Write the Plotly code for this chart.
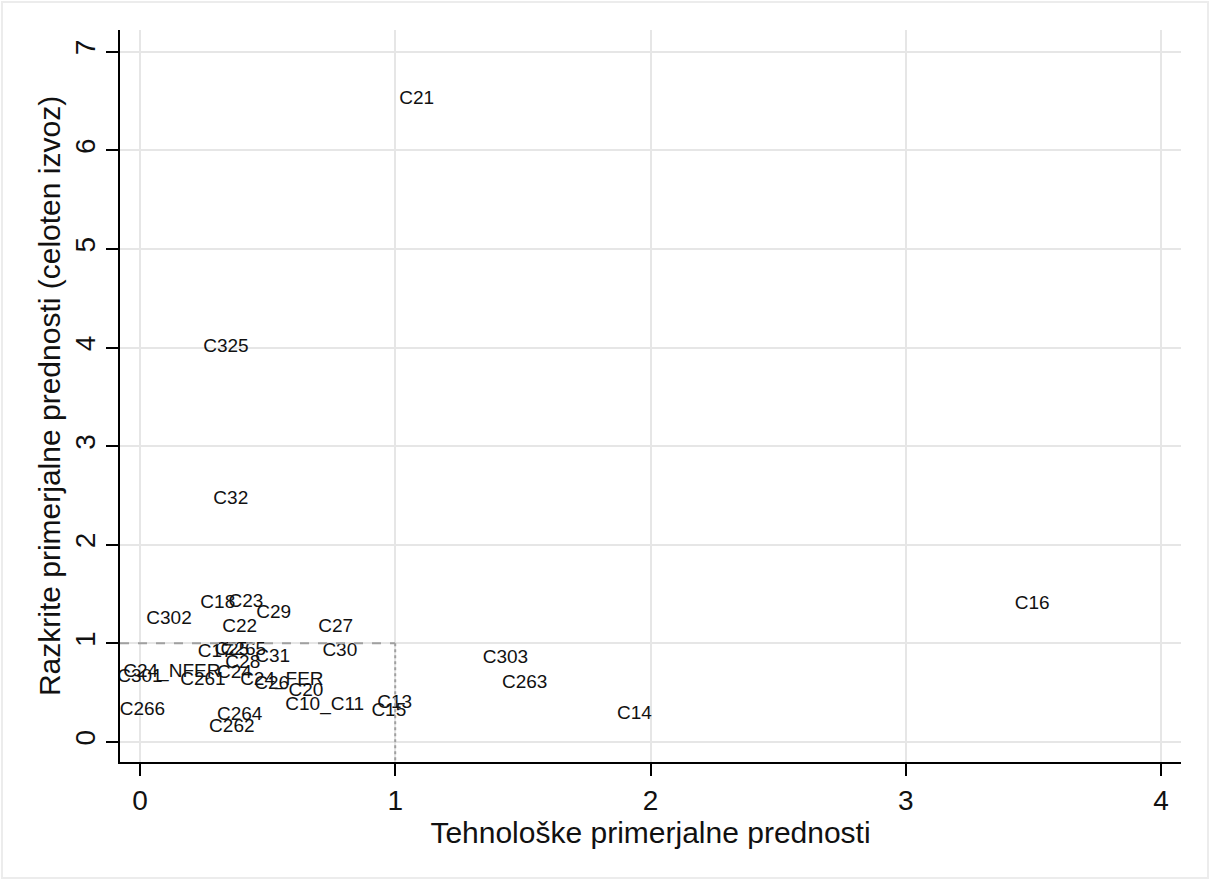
import plotly.graph_objects as go

labels = ["C21", "C325", "C32", "C16", "C18", "C23", "C29", "C302", "C22", "C27",
          "C30", "C303", "C263", "C14", "C13", "C15", "C10_C11", "C20", "C24_FER", "C26",
          "C264", "C262", "C266", "C301", "C24_NFER", "C261", "C24", "C17", "C25", "C265",
          "C28", "C31"]
tech = [1.084, 0.337, 0.356, 3.495, 0.305, 0.415, 0.524, 0.114, 0.391, 0.767,
        0.783, 1.432, 1.507, 1.937, 0.998, 0.975, 0.724, 0.650, 0.556, 0.516,
        0.391, 0.360, 0.010, 0.000, 0.125, 0.247, 0.370, 0.295, 0.360, 0.405,
        0.403, 0.520]
rca = [6.515, 4.00, 2.46, 1.40, 1.41, 1.42, 1.31, 1.24, 1.165, 1.165,
       0.92, 0.85, 0.60, 0.28, 0.395, 0.31, 0.375, 0.517, 0.63, 0.59,
       0.27, 0.15, 0.32, 0.66, 0.71, 0.63, 0.70, 0.91, 0.93, 0.93,
       0.80, 0.855]

x_ticks = [0, 1, 2, 3, 4]
y_ticks = [0, 1, 2, 3, 4, 5, 6, 7]
x_range = [-0.078, 4.078]
y_range = [-0.203, 7.22]

FONT = "Liberation Sans, Arial, sans-serif"

fig = go.Figure()
fig.add_trace(go.Scatter(
    x=tech, y=rca, mode="text", text=labels, textposition="middle center",
    textfont=dict(family=FONT, size=19, color="#111111"),
    showlegend=False, hoverinfo="text"))

# reference lines
fig.add_trace(go.Scatter(x=[x_range[0], 1], y=[1, 1], mode="lines",
                         line=dict(color="#a0a0a0", width=2, dash="dash"),
                         showlegend=False, hoverinfo="skip"))
fig.add_trace(go.Scatter(x=[1, 1], y=[1, y_range[0]], mode="lines",
                         line=dict(color="#a0a0a0", width=2, dash="dot"),
                         showlegend=False, hoverinfo="skip"))

fig.update_layout(
    width=1212, height=881,
    margin=dict(l=120, r=31, t=30, b=119),
    paper_bgcolor="white", plot_bgcolor="white",
    font=dict(family=FONT, color="#111111"),
    xaxis=dict(range=x_range, tickvals=x_ticks, ticks="outside", ticklen=12,
               tickwidth=2, tickcolor="black", showline=True, linecolor="black",
               linewidth=2, showgrid=True, gridcolor="#e6e6e6", gridwidth=2,
               zeroline=False, tickfont=dict(size=28), automargin=False,
               title=dict(text="Tehnološke primerjalne prednosti", font=dict(size=30), standoff=0)),
    yaxis=dict(range=y_range, tickvals=y_ticks, ticks="outside", ticklen=12,
               tickwidth=2, tickcolor="black", showline=True, linecolor="black",
               linewidth=2, showgrid=True, gridcolor="#e6e6e6", gridwidth=2,
               zeroline=False, tickangle=-90, tickfont=dict(size=28), automargin=False,
               title=dict(text="Razkrite primerjalne prednosti (celoten izvoz)", font=dict(size=30), standoff=0)),
    shapes=[dict(type="rect", xref="paper", yref="paper",
                 x0=(2 - 120) / 1061, x1=(1208 - 120) / 1061,
                 y0=(762 - 878) / 732, y1=(762 - 2) / 732,
                 line=dict(color="#ececec", width=2), layer="below")],
)

fig.write_html("out.html", config={"displayModeBar": False},
               post_script="document.body.style.margin='0';document.body.style.overflow='hidden';")
